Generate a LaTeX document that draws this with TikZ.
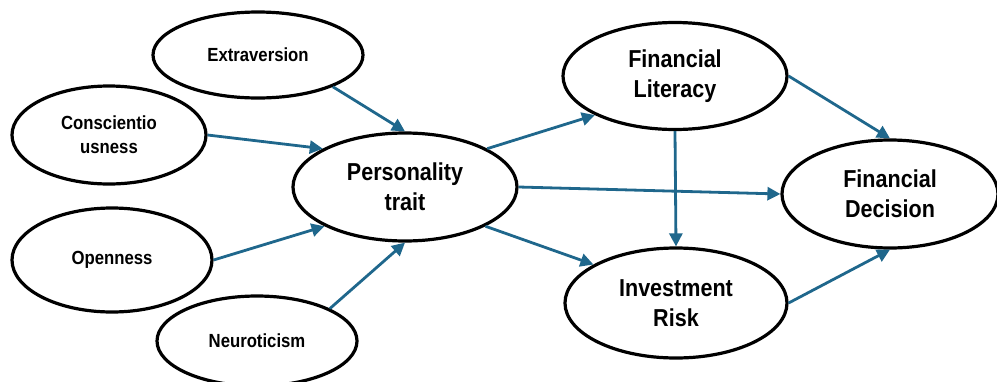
\documentclass[tikz,border=0pt]{standalone}
\usepackage{fontspec}
\setmainfont{Liberation Sans}[FakeStretch=0.88]
\usetikzlibrary{shapes.geometric,arrows.meta}
\definecolor{arrowblue}{RGB}{31,103,140}
\tikzset{
  oval/.style={ellipse, draw=black, line width=3.2pt, fill=white, inner sep=0pt,
    align=center, font=\bfseries\fontsize{19}{24}\selectfont, text=black},
  bigoval/.style={oval, font=\bfseries\fontsize{24.5}{30}\selectfont},
  arr/.style={draw=arrowblue, line width=2.8pt, -{Triangle[length=13pt,width=13pt]}}
}
\begin{document}
\begin{tikzpicture}[x=1pt,y=-1pt]
\useasboundingbox (0,0) rectangle (997,381);
\node[oval, minimum width=210pt, minimum height=86pt] (ext) at (258,55) {Extraversion};
\node[oval, minimum width=194pt, minimum height=98pt] (con) at (109,135) {Conscientio\\usness};
\node[oval, minimum width=200pt, minimum height=104pt] (ope) at (112,260) {Openness};
\node[oval, minimum width=200pt, minimum height=90pt] (neu) at (257,341) {Neuroticism};
\node[bigoval, minimum width=224pt, minimum height=108pt] (pt) at (405,187) {Personality\\trait};
\node[bigoval, minimum width=224pt, minimum height=107pt] (fl) at (675,76) {Financial\\Literacy};
\node[bigoval, minimum width=216pt, minimum height=108pt] (fd) at (890,194) {Financial\\Decision};
\node[bigoval, minimum width=222pt, minimum height=110pt] (ir) at (676,303) {Investment\\Risk};
\draw[arr] (ext.-23) -- (pt.north);
\draw[arr] (con.east) -- (pt.155);
\draw[arr] (ope.east) -- (pt.206);
\draw[arr] (neu.24) -- (pt.south);
\draw[arr] (pt.25) -- (fl.206);
\draw[arr] (pt.east) -- (fd.west);
\draw[arr] (pt.-26) -- (ir.155);
\draw[arr] (fl.south) -- (ir.north);
\draw[arr] (fl.east) -- (fd.north);
\draw[arr] (ir.east) -- (fd.south);
\end{tikzpicture}
\end{document}
